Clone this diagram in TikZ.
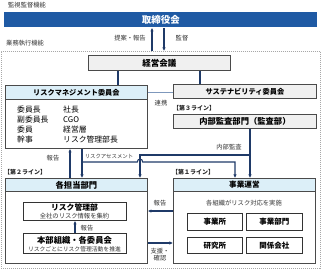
\documentclass[tikz,border=0pt]{standalone}
\usepackage{fontspec}
\setmainfont{Noto Sans CJK JP}
\usetikzlibrary{arrows.meta}
\definecolor{navy}{HTML}{1F3A68}
\definecolor{boardblue}{HTML}{1F5AA4}
\definecolor{hdrblue}{HTML}{DCEFF8}
\definecolor{boxfill}{HTML}{F0F0F0}
\definecolor{boxline}{HTML}{4A4A4A}
\definecolor{inline}{HTML}{333333}
\definecolor{linkblue}{HTML}{7E98BC}
\definecolor{dashgray}{HTML}{A8A8A8}
\begin{document}
\begin{tikzpicture}[x=1pt,y=-1pt,
  >={Latex[length=3.6pt,width=3.4pt]},
  box/.style={draw=boxline, line width=0.8pt, inner sep=0pt, anchor=north west},
  ibox/.style={draw=inline, line width=0.8pt, fill=white, inner sep=0pt, anchor=north west},
  conn/.style={draw=navy, line width=1.1pt},
  link/.style={draw=linkblue, line width=1pt},
  lbl/.style={font=\fontsize{6.3pt}{7.5pt}\selectfont, text=black!80, inner sep=0pt},
  linelbl/.style={font=\fontsize{6pt}{7pt}\selectfont\bfseries, text=black!85, inner sep=0pt, anchor=west},
  mem/.style={font=\fontsize{7.8pt}{9pt}\selectfont, anchor=west, inner sep=0pt},
  bt/.style={font=\fontsize{#1pt}{9pt}\selectfont\bfseries},
  bt/.default=8]
\useasboundingbox (0,0) rectangle (321,269);

% top labels and board
\node[lbl, anchor=west] (tsup) at (8,5) {監視監督機能};
\node[box, draw=none, fill=boardblue, minimum width=313pt, minimum height=15pt, text=white, bt=9.5] (board) at (4,12) {取締役会};
\node[lbl, anchor=west] (texe) at (6,43) {業務執行機能};
\node[box, draw=dashgray, line width=0.8pt, dash pattern=on 1pt off 1pt, minimum width=319pt, minimum height=217pt] (exec) at (1,51) {};

\coordinate (xa) at (152,0); \coordinate (xb) at (164,0);
\coordinate (x118) at (118,0); \coordinate (x200) at (200,0);
\coordinate (x250) at (250,0); \coordinate (x140) at (140,0);
\coordinate (x82) at (82,0); \coordinate (x235) at (235,0);
\coordinate (x70) at (70,0); \coordinate (x75) at (75,0);
\coordinate (y92) at (0,92); \coordinate (y155) at (0,155);
\coordinate (y162) at (0,162); \coordinate (y211) at (0,211);
\coordinate (y243) at (0,243);

\draw[conn,->] (exec.north -| xa) -- (board.south -| xa);
\draw[conn,->] (board.south -| xb) -- (exec.north -| xb);
\node[lbl] (lprop) at (130,38.5) {提案・報告};
\node[lbl] (lsup) at (182,38.5) {監督};

% management
\node[box, fill=boxfill, minimum width=142pt, minimum height=15pt, bt=8.5] (keiei) at (88,55) {経営会議};

% risk committee
\node[box, fill=white, minimum width=142pt, minimum height=63pt] (risk) at (5,85) {};
\node[box, fill=hdrblue, minimum width=142pt, minimum height=14pt, bt=7.2] (riskh) at (5,85) {リスクマネジメント委員会};
\node[mem] (m1) at (17,109.5) {委員長};
\node[mem] (m2) at (17,119.5) {副委員長};
\node[mem] (m3) at (17,129.5) {委員};
\node[mem] (m4) at (17,139.5) {幹事};
\node[mem] (n1) at (63,109.5) {社長};
\node[mem] (n2) at (63,119.5) {CGO};
\node[mem] (n3) at (63,129.5) {経営層};
\node[mem] (n4) at (63,139.5) {リスク管理部長};

% sustainability & audit
\node[box, fill=boxfill, minimum width=143pt, minimum height=14pt, bt=7.2] (sust) at (173,84) {サステナビリティ委員会};
\node[linelbl] (l3) at (173,108) {【第３ライン】};
\node[box, fill=boxfill, minimum width=143pt, minimum height=14pt, bt=8.3] (audit) at (173,114) {内部監査部門（監査部）};

% line 2
\node[linelbl] (l2) at (4,172.5) {【第２ライン】};
\node[box, fill=white, minimum width=142pt, minimum height=85pt] (tanto) at (5,178) {};
\node[box, fill=hdrblue, minimum width=142pt, minimum height=13pt, bt=8.3] (tantoh) at (5,178) {各担当部門};
\node[ibox, minimum width=103pt, minimum height=18pt] (riskdept) at (23,202) {};
\node[bt=7.8, inner sep=0pt] (rdt) at (74.5,207) {リスク管理部};
\node[lbl] (rds) at (74.5,216) {全社のリスク情報を集約};
\node[ibox, minimum width=103pt, minimum height=20pt] (honbu) at (23,233) {};
\node[bt=8.3, inner sep=0pt] (hbt) at (74.5,240) {本部組織・各委員会};
\node[lbl, font=\fontsize{5.8pt}{7pt}\selectfont] (hbs) at (74.5,249) {リスクごとにリスク管理活動を推進};

% line 1
\node[linelbl] (l1) at (172,172.5) {【第１ライン】};
\node[box, fill=white, minimum width=142pt, minimum height=85pt] (jigyo) at (173,178) {};
\node[box, fill=hdrblue, minimum width=142pt, minimum height=13pt, bt=7.6] (jigyoh) at (173,178) {事業運営};
\node[lbl] (jgs) at (244,203) {各組織がリスク対応を実施};
\node[ibox, minimum width=55pt, minimum height=17pt, bt=7.5] (e1) at (187,213) {事業所};
\node[ibox, minimum width=56pt, minimum height=17pt, bt=7.5] (e2) at (246,213) {事業部門};
\node[ibox, minimum width=55pt, minimum height=16pt, bt=7.5] (e3) at (187,237) {研究所};
\node[ibox, minimum width=56pt, minimum height=16pt, bt=7.5] (e4) at (246,237) {関係会社};

% connectors
\draw[conn] (keiei.south -| x118) -- (risk.north -| x118);
\draw[conn] (keiei.south -| x200) -- (sust.north -| x200);
\draw[link] (risk.east |- y92) -- (sust.west |- y92);
\node[lbl] (lrenk) at (161,103) {連携};

\draw[conn,->] (audit.south -| x250) -- (jigyo.north -| x250);
\draw[conn,->] (x250 |- y155) -- (x140 |- y155) -- (tanto.north -| x140);
\node[lbl] (laud) at (229,147) {内部監査};

\draw[conn,->] (risk.south -| x82) -- (tanto.north -| x82);
\draw[conn,->] (x82 |- y162) -- (137.3,162) .. controls (137.3,158.2) and (142.7,158.2) .. (142.7,162) -- (x235 |- y162) -- (jigyo.north -| x235);
\node[lbl, font=\fontsize{5.4pt}{6.5pt}\selectfont] (lra) at (109,156) {リスクアセスメント};

\draw[conn,->] (tanto.north -| x70) -- (risk.south -| x70);
\node[lbl] (lrep1) at (53,158) {報告};

\draw[conn,->] (honbu.north -| x75) -- (riskdept.south -| x75);
\node[lbl] (lrep2) at (87,228) {報告};

\draw[conn,->] (jigyo.west |- y211) -- (tanto.east |- y211);
\node[lbl] (lrep3) at (160,203) {報告};
\draw[conn,->] (tanto.east |- y243) -- (jigyo.west |- y243);
\node[lbl, align=center] (lsup2) at (160,254.5) {支援・\\確認};
\end{tikzpicture}
\end{document}
